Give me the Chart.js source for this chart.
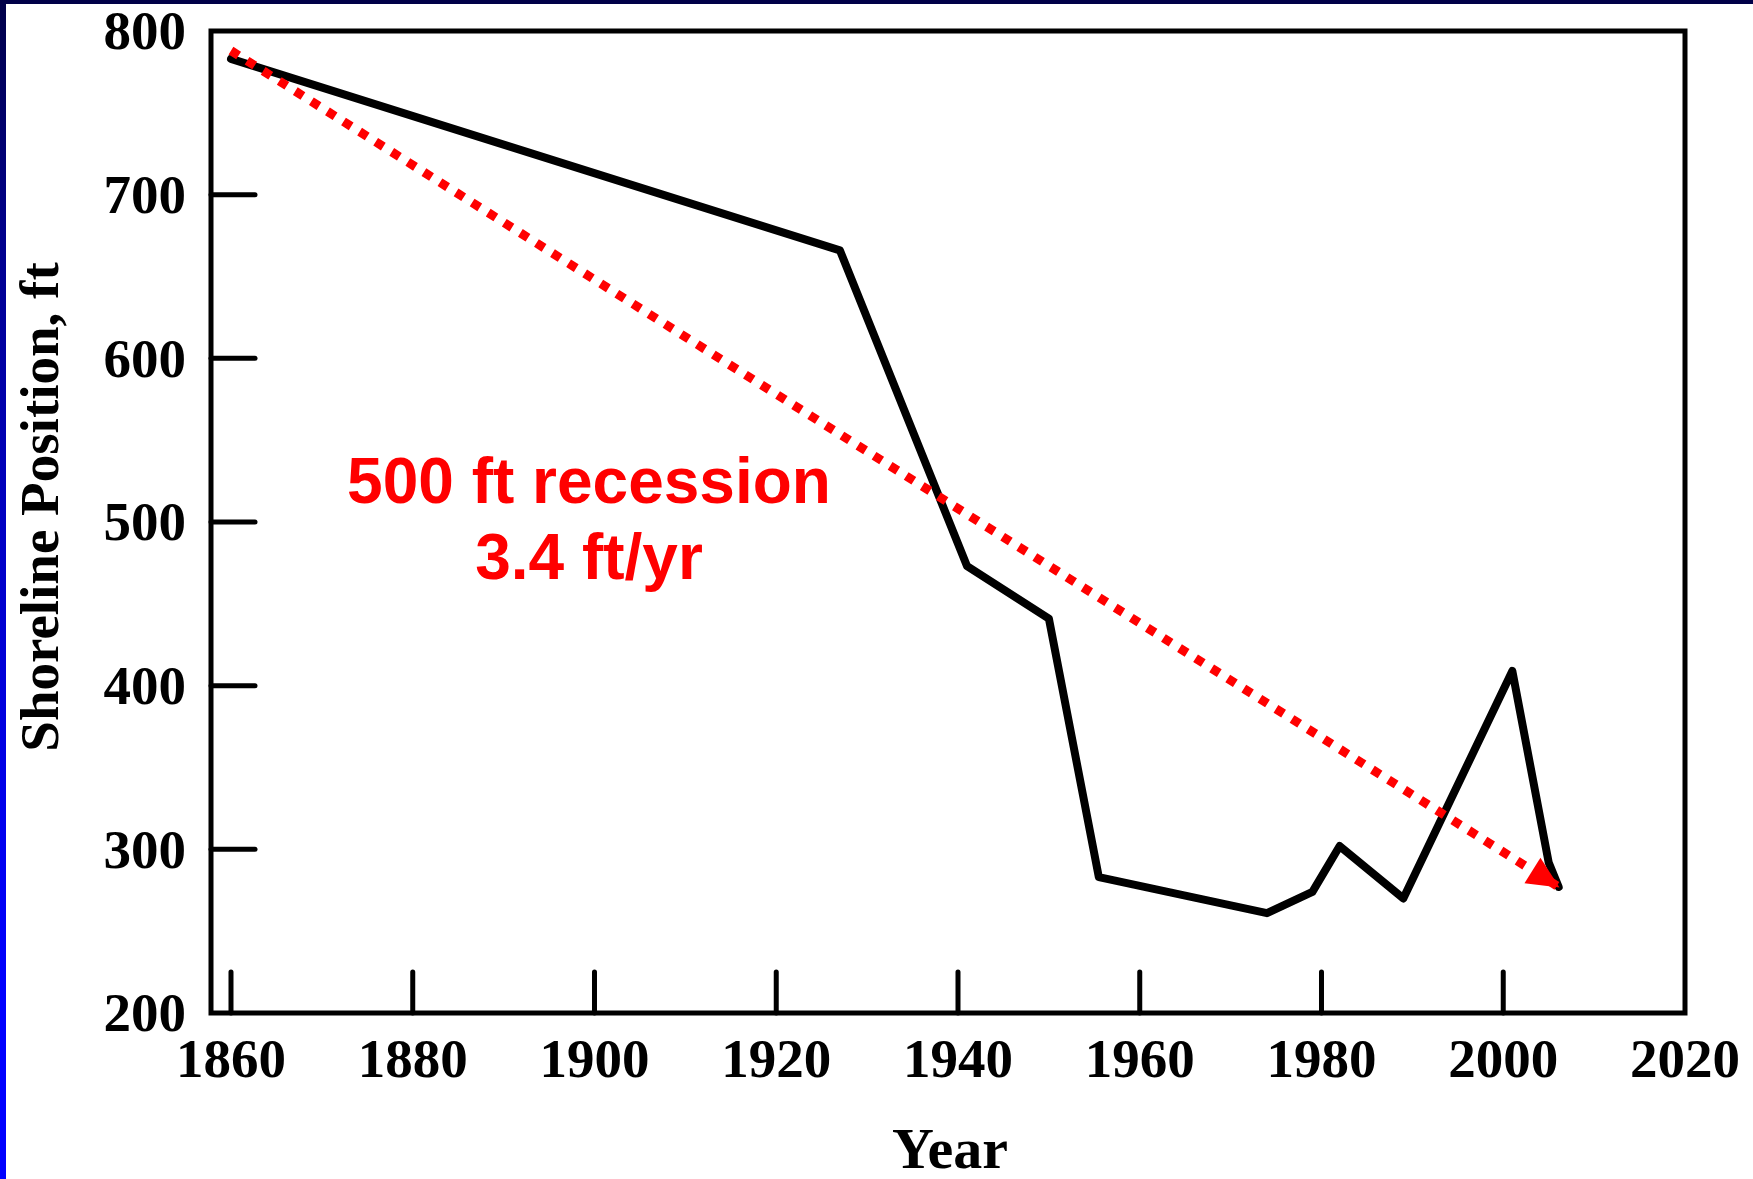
<!DOCTYPE html>
<html>
<head>
<meta charset="utf-8">
<title>Shoreline Position</title>
<script src="https://cdn.jsdelivr.net/npm/chart.js@4.4.1/dist/chart.umd.min.js"></script>
<style>
  html, body { margin: 0; padding: 0; background: #fff; }
  #wrap { position: relative; width: 1753px; height: 1179px; overflow: hidden; background: #fff; }
  #wrap canvas { position: absolute; left: 0; top: 0; }
  #topBand { position: absolute; left: 0; top: 0; width: 1753px; height: 4px; background: #000048; }
  #leftBand { position: absolute; left: 0; top: 0; width: 6px; height: 1179px;
    background: linear-gradient(to bottom, #000048 0%, #00008c 20%, #0000c4 45%, #0000ee 70%, #0000ff 85%); }
</style>
</head>
<body>
<div id="wrap">
  <canvas id="shoreChart" width="1753" height="1179"></canvas>
  <div id="topBand"></div>
  <div id="leftBand"></div>
</div>
<script>
// shoreline position measured over time (ft)
const years = [1860, 1927, 1941, 1950, 1955.5, 1974, 1979, 1982, 1989, 2001, 2005, 2006.1];
const positions = [783, 666, 473, 441, 283, 261, 274, 302, 270, 409, 292, 277];

// red trend arrow, start and end
const trendYears = [1860, 2006.1];
const trendPositions = [788, 277];

const yearTicks = [1860, 1880, 1900, 1920, 1940, 1960, 1980, 2000, 2020];
const positionTicks = [200, 300, 400, 500, 600, 700, 800];

const noteLines = ["500 ft recession", "3.4 ft/yr"];
const xTitle = "Year";
const yTitle = "Shoreline Position, ft";

const serif = '"Liberation Serif", "Times New Roman", serif';
const sans = '"Liberation Sans", Arial, sans-serif';

function toPoints(xs, ys) {
    return xs.map(function (x, i) { return { x: x, y: ys[i] }; });
}

// box around the plot plus the inward tick marks
const framePlugin = {
    id: "frame",
    beforeDatasetsDraw(chart) {
        const { ctx, chartArea: a, scales } = chart;
        ctx.save();
        ctx.strokeStyle = "#000";
        ctx.lineWidth = 5;
        ctx.lineJoin = "miter";
        ctx.strokeRect(a.left, a.top, a.right - a.left, a.bottom - a.top);
        ctx.lineCap = "round";
        yearTicks.forEach(function (v) {
            const px = scales.x.getPixelForValue(v);
            if (px > a.right - 3) return;
            ctx.beginPath();
            ctx.moveTo(px, a.bottom);
            ctx.lineTo(px, a.bottom - 41);
            ctx.stroke();
        });
        positionTicks.forEach(function (v) {
            const py = scales.y.getPixelForValue(v);
            if (py < a.top + 3 || py > a.bottom - 3) return;
            ctx.beginPath();
            ctx.moveTo(a.left, py);
            ctx.lineTo(a.left + 44, py);
            ctx.stroke();
        });
        ctx.restore();
    }
};

// arrow head, red note and axis titles
const textPlugin = {
    id: "texts",
    afterDatasetsDraw(chart) {
        const { ctx, chartArea: a } = chart;
        const meta = chart.getDatasetMeta(0);
        const p0 = meta.data[0];
        const p1 = meta.data[meta.data.length - 1];
        const ang = Math.atan2(p1.y - p0.y, p1.x - p0.x);

        ctx.save();
        ctx.translate(p1.x, p1.y);
        ctx.rotate(ang);
        ctx.fillStyle = "#ff0000";
        ctx.beginPath();
        ctx.moveTo(1, 0);
        ctx.lineTo(-31, -15);
        ctx.lineTo(-31, 15);
        ctx.closePath();
        ctx.fill();
        ctx.restore();

        ctx.save();
        ctx.fillStyle = "#ff0000";
        ctx.font = "bold 64px " + sans;
        ctx.textAlign = "center";
        ctx.textBaseline = "alphabetic";
        ctx.fillText(noteLines[0], a.left + 378, a.top + 472);
        ctx.fillText(noteLines[1], a.left + 378, a.top + 548);
        ctx.restore();

        ctx.save();
        ctx.fillStyle = "#000";
        ctx.font = "bold 58px " + serif;
        ctx.textAlign = "center";
        ctx.textBaseline = "alphabetic";
        ctx.fillText(xTitle, (a.left + a.right) / 2 + 2, 1168);
        ctx.font = "bold 55px " + serif;
        ctx.translate(58, 507);
        ctx.rotate(-Math.PI / 2);
        ctx.fillText(yTitle, 0, 0);
        ctx.restore();
    }
};

const tickFont = { family: serif, size: 55, weight: "bold", lineHeight: 1 };

const ctx = document.getElementById("shoreChart").getContext("2d");

const chart = new Chart(ctx, {
    type: "scatter",
    data: {
        datasets: [{
            label: "Trend",
            data: toPoints(trendYears, trendPositions),
            showLine: true,
            borderColor: "#ff0000",
            borderWidth: 9,
            borderDash: [9, 10],
            borderCapStyle: "butt",
            pointRadius: 0,
            order: 0
        }, {
            label: "Shoreline",
            data: toPoints(years, positions),
            showLine: true,
            borderColor: "#000",
            borderWidth: 8,
            borderJoinStyle: "round",
            borderCapStyle: "round",
            tension: 0,
            pointRadius: 0,
            order: 1
        }]
    },
    options: {
        responsive: false,
        animation: false,
        layout: { padding: { top: 31, right: 68, left: 0, bottom: 0 } },
        plugins: {
            legend: { display: false },
            tooltip: { enabled: false }
        },
        scales: {
            x: {
                type: "linear",
                min: 1857.8,
                max: 2020,
                grid: { display: false, drawTicks: false },
                border: { display: false },
                afterBuildTicks: function (s) { s.ticks = yearTicks.map(function (v) { return { value: v }; }); },
                afterFit: function (s) { s.height = 166; s.paddingLeft = 0; s.paddingRight = 0; },
                ticks: {
                    font: tickFont,
                    color: "#000",
                    padding: 22,
                    maxRotation: 0,
                    autoSkip: false,
                    callback: function (v) { return String(v); }
                }
            },
            y: {
                type: "linear",
                min: 200,
                max: 800,
                grid: { display: false, drawTicks: false },
                border: { display: false },
                afterBuildTicks: function (s) { s.ticks = positionTicks.map(function (v) { return { value: v }; }); },
                afterFit: function (s) { s.width = 211; s.paddingTop = 0; s.paddingBottom = 0; },
                ticks: {
                    font: tickFont,
                    color: "#000",
                    padding: 25,
                    labelOffset: 4,
                    autoSkip: false,
                    callback: function (v) { return String(v); }
                }
            }
        }
    },
    plugins: [framePlugin, textPlugin]
});
</script>
</body>
</html>
